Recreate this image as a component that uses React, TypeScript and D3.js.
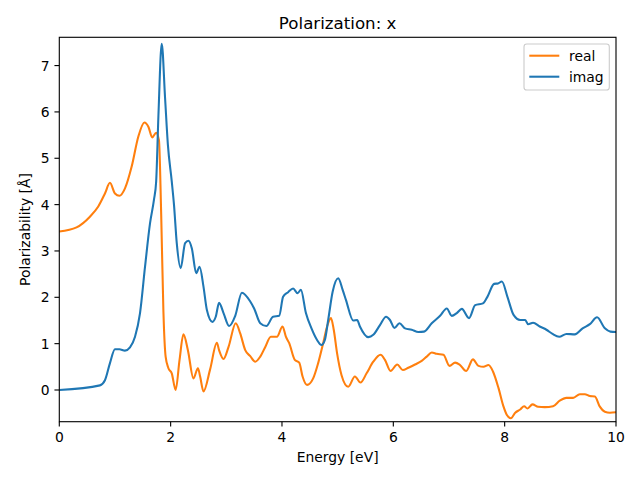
import React from "react";
import * as d3 from "d3";

const realE = [0, 0.31, 0.55, 0.70, 0.82, 0.91, 1.00, 1.08, 1.18, 1.30, 1.42, 1.53, 1.60, 1.67, 1.74, 1.79, 1.83, 1.87, 1.91, 1.96, 2.02, 2.09, 2.16, 2.23, 2.31, 2.41, 2.49, 2.53, 2.59, 2.71, 2.83, 2.87, 2.95, 3.04, 3.17, 3.25, 3.34, 3.43, 3.52, 3.61, 3.70, 3.80, 3.91, 4.01, 4.07, 4.13, 4.23, 4.31, 4.37, 4.45, 4.56, 4.65, 4.74, 4.81, 4.88, 4.93, 4.99, 5.07, 5.19, 5.31, 5.41, 5.52, 5.64, 5.77, 5.85, 5.95, 6.07, 6.17, 6.27, 6.39, 6.51, 6.60, 6.69, 6.78, 6.90, 7.01, 7.11, 7.19, 7.31, 7.43, 7.53, 7.62, 7.71, 7.79, 7.89, 7.98, 8.04, 8.11, 8.19, 8.28, 8.35, 8.41, 8.50, 8.60, 8.72, 8.87, 8.99, 9.11, 9.23, 9.35, 9.44, 9.53, 9.62, 9.71, 9.80, 9.89, 10];
const realV = [3.42, 3.51, 3.74, 3.96, 4.24, 4.47, 4.24, 4.19, 4.35, 4.82, 5.47, 5.77, 5.68, 5.45, 5.55, 5.39, 3.8, 1.70, 0.72, 0.47, 0.36, 0.0, 0.65, 1.20, 0.86, 0.25, 0.47, 0.29, -0.03, 0.45, 1.02, 0.86, 0.67, 0.93, 1.44, 1.22, 0.86, 0.73, 0.61, 0.72, 0.93, 1.15, 1.15, 1.37, 1.15, 1.01, 0.65, 0.59, 0.29, 0.11, 0.25, 0.58, 1.01, 1.37, 1.55, 1.30, 0.79, 0.32, 0.07, 0.29, 0.16, 0.36, 0.61, 0.76, 0.65, 0.41, 0.55, 0.43, 0.48, 0.55, 0.63, 0.72, 0.81, 0.78, 0.76, 0.52, 0.59, 0.55, 0.41, 0.66, 0.52, 0.50, 0.54, 0.40, 0.04, -0.36, -0.54, -0.61, -0.49, -0.42, -0.35, -0.40, -0.31, -0.36, -0.37, -0.35, -0.23, -0.17, -0.17, -0.09, -0.09, -0.13, -0.14, -0.36, -0.47, -0.49, -0.48];

const imagE = [0, 0.73, 0.82, 0.91, 1.00, 1.08, 1.18, 1.27, 1.36, 1.45, 1.54, 1.63, 1.70, 1.74, 1.78, 1.84, 1.90, 1.95, 2.02, 2.06, 2.11, 2.18, 2.26, 2.32, 2.38, 2.46, 2.52, 2.59, 2.65, 2.75, 2.81, 2.87, 2.95, 3.05, 3.16, 3.28, 3.43, 3.50, 3.61, 3.72, 3.84, 3.95, 4.02, 4.11, 4.20, 4.28, 4.34, 4.43, 4.53, 4.63, 4.71, 4.77, 4.83, 4.91, 5.01, 5.09, 5.15, 5.28, 5.35, 5.40, 5.55, 5.64, 5.76, 5.87, 5.94, 6.02, 6.11, 6.21, 6.33, 6.45, 6.55, 6.69, 6.84, 6.96, 7.05, 7.14, 7.23, 7.36, 7.47, 7.61, 7.69, 7.81, 7.88, 7.95, 8.05, 8.16, 8.28, 8.37, 8.42, 8.51, 8.63, 8.75, 8.86, 8.98, 9.11, 9.26, 9.40, 9.53, 9.66, 9.80, 9.90, 10];
const imagV = [0, 0.10, 0.21, 0.58, 0.88, 0.88, 0.85, 0.92, 1.15, 1.66, 2.66, 3.60, 4.10, 4.50, 5.9, 7.47, 6.3, 5.3, 4.5, 4.0, 3.17, 2.63, 3.17, 3.22, 3.06, 2.52, 2.66, 2.23, 1.73, 1.47, 1.58, 1.88, 1.66, 1.38, 1.60, 2.10, 1.91, 1.76, 1.44, 1.38, 1.58, 1.60, 2.01, 2.11, 2.19, 2.09, 2.16, 1.66, 1.33, 1.08, 0.97, 1.08, 1.51, 2.12, 2.41, 2.16, 1.94, 1.50, 1.51, 1.37, 1.14, 1.19, 1.40, 1.58, 1.51, 1.34, 1.44, 1.33, 1.30, 1.25, 1.26, 1.44, 1.60, 1.76, 1.60, 1.66, 1.75, 1.55, 1.83, 1.87, 2.01, 2.29, 2.30, 2.34, 2.01, 1.62, 1.51, 1.51, 1.42, 1.45, 1.37, 1.30, 1.21, 1.15, 1.21, 1.20, 1.33, 1.42, 1.57, 1.33, 1.26, 1.25];

const xTicks = [0, 2, 4, 6, 8, 10];
const yTicks = [0, 1, 2, 3, 4, 5, 6, 7];
const seriesNames = ["real", "imag"];
const seriesColors = ["#ff7f0e", "#1f77b4"];
const title = "Polarization: x";
const xLabel = "Energy [eV]";
const yLabel = "Polarizability [Å]";

const W = 640, H = 480;
const L = 59.3, R = 616, T = 37.3, B = 421.7;
const FONT = "DejaVu Sans, sans-serif";

export default function App() {
  const x = d3.scaleLinear().domain([0, 10]).range([L, R]);
  const y = d3.scaleLinear().domain([-0.684, 7.61]).range([B, T]);
  const line = d3.line<[number, number]>().x(d => x(d[0])).y(d => y(d[1])).curve(d3.curveMonotoneX);
  const realPts = realE.map((e, i) => [e, realV[i]] as [number, number]);
  const imagPts = imagE.map((e, i) => [e, imagV[i]] as [number, number]);
  const tickLen = 4.86;
  return (
    <svg width={W} height={H} style={{ position: "absolute", left: 0, top: 0, background: "#fff" }} fontFamily={FONT}>
      <rect x={0} y={0} width={W} height={H} fill="#fff" />
      <defs>
        <clipPath id="clip"><rect x={L} y={T} width={R - L} height={B - T} /></clipPath>
      </defs>
      <g clipPath="url(#clip)">
        <path d={line(realPts) || ""} fill="none" stroke={seriesColors[0]} strokeWidth={2.08} strokeLinejoin="round" strokeLinecap="square" />
        <path d={line(imagPts) || ""} fill="none" stroke={seriesColors[1]} strokeWidth={2.08} strokeLinejoin="round" strokeLinecap="square" />
      </g>
      {/* spines */}
      <rect x={L} y={T} width={R - L} height={B - T} fill="none" stroke="#000" strokeWidth={1.11} />
      {/* x ticks */}
      {xTicks.map(t => (
        <g key={"x" + t}>
          <line x1={x(t)} x2={x(t)} y1={B} y2={B + tickLen} stroke="#000" strokeWidth={1.11} />
          <text x={x(t)} y={B + 20.5} fontSize={13.89} textAnchor="middle" fill="#000">{t}</text>
        </g>
      ))}
      {yTicks.map(t => (
        <g key={"y" + t}>
          <line x1={L - tickLen} x2={L} y1={y(t)} y2={y(t)} stroke="#000" strokeWidth={1.11} />
          <text x={L - tickLen - 4.86} y={y(t) + 5} fontSize={13.89} textAnchor="end" fill="#000">{t}</text>
        </g>
      ))}
      <text x={(L + R) / 2} y={29} fontSize={16.67} textAnchor="middle" fill="#000">{title}</text>
      <text x={(L + R) / 2} y={462} fontSize={13.89} textAnchor="middle" fill="#000">{xLabel}</text>
      <text transform={`translate(30,${(T + B) / 2}) rotate(-90)`} fontSize={13.89} textAnchor="middle" fill="#000">{yLabel}</text>
      {/* legend */}
      <g>
        <rect x={524} y={44} width={85.3} height={46} rx={2.8} fill="#fff" fillOpacity={0.8} stroke="#cccccc" strokeWidth={1.11} />
        {seriesNames.map((n, i) => (
          <g key={n}>
            <line x1={529.3} x2={559.3} y1={55.7 + i * 21} y2={55.7 + i * 21} stroke={seriesColors[i]} strokeWidth={2.08} />
            <text x={569} y={55.7 + i * 21 + 5} fontSize={13.89} fill="#000">{n}</text>
          </g>
        ))}
      </g>
    </svg>
  );
}
